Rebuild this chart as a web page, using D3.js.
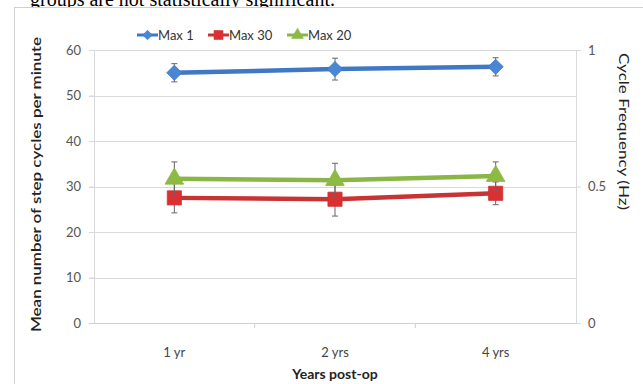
<!DOCTYPE html>
<html>
<head>
<meta charset="UTF-8" />
<script src="https://d3js.org/d3.v7.min.js"></script>
<style>
  body { margin: 0; background: #fff; }
  svg { display: block; }
</style>
</head>
<body>
<div id="chart"></div>
<script>
// data
const years = ["1 yr", "2 yrs", "4 yrs"];
const seriesNames = ["Max 1", "Max 30", "Max 20"];
const max1 = [55.0, 55.8, 56.3];
const max1Err = [2.0, 2.4, 2.0];
const max30 = [27.5, 27.2, 28.5];
const max30Err = [3.3, 3.7, 2.5];
const max20 = [31.7, 31.4, 32.3];
const max20Err = [3.7, 3.7, 3.1];
const leftTicks = [0, 10, 20, 30, 40, 50, 60];
const rightTicks = [0, 0.5, 1];

const W = 643, H = 384;
const plotL = 94, plotR = 576, plotT = 50, plotB = 323;

const svg = d3.select("#chart").append("svg").attr("width", W).attr("height", H);

// clipped caption line from the page above the figure
svg.append("text")
  .attr("x", 30).attr("y", 6)
  .style("font-family", "Liberation Serif, serif")
  .style("font-size", "20px")
  .text("groups are not statistically significant.");

// chart frame
svg.append("rect")
  .attr("x", 14.5).attr("y", 7.5)
  .attr("width", 640).attr("height", 390)
  .attr("fill", "#fff").attr("stroke", "#d0d0d0");

const x = d3.scaleBand().domain(years).range([plotL, plotR]);
const y = d3.scaleLinear().domain([0, 60]).range([plotB, plotT]);
const y2 = d3.scaleLinear().domain([0, 1]).range([plotB, plotT]);

const font = "Lato, 'Open Sans', sans-serif";

// gridlines
svg.append("g").selectAll("line").data(leftTicks.slice(1)).join("line")
  .attr("x1", plotL - 5).attr("x2", plotR)
  .attr("y1", d => Math.round(y(d)) + 0.5).attr("y2", d => Math.round(y(d)) + 0.5)
  .attr("stroke", "#d9d9d9").attr("stroke-width", 1.2);

// left axis
const gl = svg.append("g").attr("transform", `translate(${plotL},0)`)
  .call(d3.axisLeft(y).tickValues(leftTicks).tickSize(5).tickPadding(8));
gl.select(".domain").attr("stroke", "#d9d9d9");
gl.selectAll(".tick line").attr("stroke", "#d9d9d9");
gl.selectAll("text").attr("fill", "#555").style("font-size", "13px").style("font-family", font);

// right axis
const gr = svg.append("g").attr("transform", `translate(${plotR},0)`)
  .call(d3.axisRight(y2).tickValues(rightTicks).tickFormat(d3.format("")).tickSize(5).tickPadding(7));
gr.select(".domain").attr("stroke", "#d9d9d9");
gr.selectAll(".tick line").attr("stroke", "#d9d9d9");
gr.selectAll("text").attr("fill", "#555").style("font-size", "13px").style("font-family", font);

// bottom axis
svg.append("line")
  .attr("x1", plotL - 5).attr("x2", plotR)
  .attr("y1", plotB + 0.5).attr("y2", plotB + 0.5)
  .attr("stroke", "#d0d0d0").attr("stroke-width", 1.2);
svg.append("g").selectAll("line").data(years.slice(1)).join("line")
  .attr("x1", d => x(d)).attr("x2", d => x(d))
  .attr("y1", plotB).attr("y2", plotB + 5)
  .attr("stroke", "#d0d0d0");
svg.append("g").selectAll("text").data(years).join("text")
  .attr("x", d => x(d) + x.bandwidth() / 2)
  .attr("y", plotB + 34)
  .attr("text-anchor", "middle")
  .attr("fill", "#444")
  .style("font-size", "13px").style("font-family", font)
  .text(d => d);

// axis titles
svg.append("text")
  .attr("transform", `translate(41,${(37 + 332) / 2}) rotate(-90)`)
  .attr("text-anchor", "middle")
  .attr("textLength", 295).attr("lengthAdjust", "spacingAndGlyphs")
  .style("font-size", "14px").style("font-family", font).style("font-weight", "600").attr("fill", "#222")
  .text("Mean number of step cycles per minute");

svg.append("text")
  .attr("transform", `translate(619,${(53 + 210) / 2}) rotate(90)`)
  .attr("text-anchor", "middle")
  .attr("textLength", 157).attr("lengthAdjust", "spacingAndGlyphs")
  .style("font-size", "13px").style("font-family", font).attr("fill", "#222")
  .text("Cycle Frequency  (Hz)");

svg.append("text")
  .attr("x", x("2 yrs") + x.bandwidth() / 2).attr("y", 379)
  .attr("text-anchor", "middle")
  .style("font-size", "14px").style("font-family", font).style("font-weight", "bold").attr("fill", "#222")
  .text("Years post-op");

const series = [
  { name: seriesNames[0], vals: max1, err: max1Err, color: "#3f78c4", fill: "#4a86d6", shape: d3.symbolSquare, rot: 45, size: 115 },
  { name: seriesNames[1], vals: max30, err: max30Err, color: "#c83434", fill: "#dc3030", shape: d3.symbolSquare, rot: 0, size: 200 },
  { name: seriesNames[2], vals: max20, err: max20Err, color: "#8ab547", fill: "#8dbb42", shape: d3.symbolTriangle, rot: 0, size: 150 }
];

const cx = i => x(years[i]) + x.bandwidth() / 2;
const line = d3.line().x((d, i) => cx(i)).y(d => y(d));

// draw in order: red, green, blue (green triangles sit over red)
[series[1], series[2], series[0]].forEach(s => {
  const g = svg.append("g");
  g.append("path").datum(s.vals)
    .attr("d", line).attr("fill", "none")
    .attr("stroke", s.color).attr("stroke-width", 4.5);
  // error bars
  g.selectAll(".eb").data(s.vals).join("g").each(function (d, i) {
    const e = d3.select(this);
    const xx = cx(i);
    e.append("line").attr("x1", xx).attr("x2", xx)
      .attr("y1", y(d - s.err[i])).attr("y2", y(d + s.err[i]))
      .attr("stroke", "#666").attr("stroke-width", 1);
    [d - s.err[i], d + s.err[i]].forEach(v => {
      e.append("line").attr("x1", xx - 3).attr("x2", xx + 3)
        .attr("y1", y(v)).attr("y2", y(v))
        .attr("stroke", "#666").attr("stroke-width", 1);
    });
  });
  g.selectAll("path.m").data(s.vals).join("path").attr("class", "m")
    .attr("transform", (d, i) => `translate(${cx(i)},${y(d)}) rotate(${s.rot})`)
    .attr("d", d3.symbol().type(s.shape).size(s.size))
    .attr("fill", s.fill).attr("stroke", s.color).attr("stroke-width", 0.8);
});

// legend
const legX = [137, 208, 287];
series.forEach((s, i) => {
  const lg = svg.append("g").attr("transform", `translate(${legX[i]},35)`);
  lg.append("line").attr("x1", 0).attr("x2", 21).attr("y1", 0).attr("y2", 0)
    .attr("stroke", s.color).attr("stroke-width", 3);
  lg.append("path").attr("transform", `translate(10.5,0) rotate(${s.rot})`)
    .attr("d", d3.symbol().type(s.shape).size(s.size * 0.4))
    .attr("fill", s.fill).attr("stroke", s.color).attr("stroke-width", 0.6);
  lg.append("text").attr("x", 21).attr("y", 5)
    .style("font-size", "13px").style("font-family", font).attr("fill", "#333")
    .text(s.name);
});
</script>
</body>
</html>
